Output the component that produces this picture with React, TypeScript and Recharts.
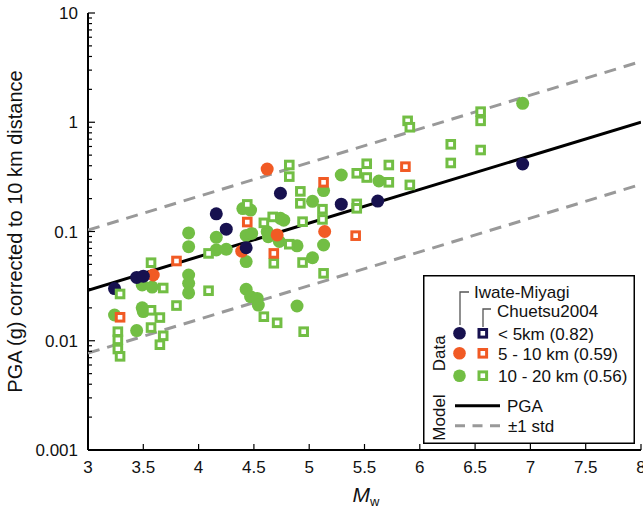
import { Legend, Scatter, ScatterChart, XAxis, YAxis } from 'recharts'

const NAVY = '#17114f'
const ORANGE = '#f15a24'
const GREEN = '#72be44'
const DASH = '#999999'
const FONT = '"Liberation Sans", Arial, Helvetica, sans-serif'

// Iwate-Miyagi (filled circles)
const iwateNearMw = [3.24, 3.44, 3.5, 4.16, 4.25, 4.43, 4.74, 5.29, 5.62, 6.93]
const iwateNearPga = [0.03, 0.038, 0.039, 0.145, 0.105, 0.071, 0.224, 0.178, 0.19, 0.415]

const iwateMidMw = [3.59, 4.39, 4.62, 4.71, 5.14]
const iwateMidPga = [0.04, 0.066, 0.373, 0.093, 0.1]

const iwateFarMw = [
  3.24, 3.49, 3.58, 3.49, 3.5, 3.44, 3.91, 3.91, 3.91, 3.91, 3.91, 4.16, 4.16, 4.25, 4.4, 4.47,
  4.43, 4.48, 4.43, 4.43, 4.47, 4.53, 4.54, 4.62, 4.63, 4.74, 4.77, 4.73, 4.89, 4.89, 5.03, 5.03,
  5.13, 5.13, 5.29, 5.63, 6.93,
]
const iwateFarPga = [
  0.0172, 0.0324, 0.031, 0.02, 0.0185, 0.0124, 0.097, 0.0726, 0.04, 0.0336, 0.0274, 0.0885, 0.0678,
  0.0687, 0.162, 0.157, 0.092, 0.096, 0.053, 0.0296, 0.0253, 0.0244, 0.0212, 0.0996, 0.0895, 0.132,
  0.127, 0.081, 0.074, 0.0208, 0.189, 0.0575, 0.237, 0.0752, 0.329, 0.29, 1.49,
]

// Chuetsu2004 (open squares)
const chuetsuMidMw = [3.29, 3.8, 4.44, 4.68, 5.13, 5.42, 5.87]
const chuetsuMidPga = [0.0164, 0.0537, 0.122, 0.063, 0.282, 0.0916, 0.392]

const chuetsuFarMw = [
  3.29, 3.27, 3.27, 3.27, 3.29, 3.57, 3.68, 3.57, 3.65, 3.57, 3.68, 3.65, 3.8, 4.09, 4.09, 4.44,
  4.59, 4.67, 4.68, 4.59, 4.71, 4.82, 4.82, 4.82, 4.92, 4.92, 4.94, 4.94, 4.95, 5.12, 5.12, 5.13,
  5.43, 5.43, 5.43, 5.52, 5.52, 5.72, 5.72, 5.89, 5.91, 5.91, 6.28, 6.28, 6.55, 6.55, 6.55,
]
const chuetsuFarPga = [
  0.0268, 0.0121, 0.0102, 0.0084, 0.0072, 0.0518, 0.0304, 0.019, 0.0163, 0.0132, 0.0111, 0.0092,
  0.021, 0.063, 0.0287, 0.177, 0.12, 0.136, 0.0512, 0.0166, 0.0146, 0.406, 0.318, 0.0765, 0.233,
  0.181, 0.123, 0.052, 0.0121, 0.16, 0.129, 0.0414, 0.341, 0.179, 0.163, 0.417, 0.312, 0.406,
  0.282, 1.03, 0.9, 0.267, 0.628, 0.424, 1.25, 1.03, 0.557,
]

// model
const modelMw = [3, 8]
const modelPga = [0.029, 1.0]
const modelUpper = [0.103, 3.6]
const modelLower = [0.0077, 0.27]

const xTicks = [3, 3.5, 4, 4.5, 5, 5.5, 6, 6.5, 7, 7.5, 8]
const yMajorTicks = [0.001, 0.01, 0.1, 1, 10]
const yMinorSteps = [2, 3, 4, 5, 6, 7, 8, 9]
const yTicks = yMajorTicks.flatMap((d, i) =>
  i < yMajorTicks.length - 1 ? [d, ...yMinorSteps.map((s) => +(d * s).toPrecision(3))] : [d]
)

const distanceLabels = ['< 5km (0.82)', '5 - 10 km (0.59)', '10 - 20 km (0.56)']
const distanceColors = [NAVY, ORANGE, GREEN]

const toPoints = (mw: number[], pga: number[]) => mw.map((m, i) => ({ mw: m, pga: pga[i] }))

const circle = (color: string) => (p: any) => <circle cx={p.cx} cy={p.cy} r={6.5} fill={color} />
const square = (color: string) => (p: any) => (
  <rect x={p.cx - 3.8} y={p.cy - 3.8} width={7.6} height={7.6} fill='#fff' stroke={color} strokeWidth={3} />
)
const noDot = () => <g />

const LeftTick = ({ x, y, payload }: any) => {
  const major = yMajorTicks.includes(payload.value)
  return (
    <g>
      <line x1={x} x2={x + (major ? 7 : 4)} y1={y} y2={y} stroke='#000' strokeWidth={1.2} />
      {major && (
        <text x={x - 10} y={y} dy={6} textAnchor='end' fontSize={17} fontFamily={FONT} fill='#111'>
          {payload.value}
        </text>
      )}
    </g>
  )
}

const RightTick = ({ x, y, payload }: any) => {
  const major = yMajorTicks.includes(payload.value)
  return <line x1={x} x2={x - (major ? 7 : 4)} y1={y} y2={y} stroke='#000' strokeWidth={1.2} />
}

const BottomTick = ({ x, y, payload }: any) => (
  <g>
    <line x1={x} x2={x} y1={y} y2={y - 6} stroke='#000' strokeWidth={1.2} />
    <text x={x} y={y} dy={23} textAnchor='middle' fontSize={17} fontFamily={FONT} fill='#111'>
      {payload.value}
    </text>
  </g>
)

const TopTick = ({ x, y }: any) => <line x1={x} x2={x} y1={y} y2={y + 6} stroke='#000' strokeWidth={1.2} />

function LegendBox() {
  const rows = [58.3, 78.3, 100.7]
  return (
    <svg width={213} height={170} style={{ display: 'block', fontFamily: FONT }}>
      <rect x={0.75} y={0.75} width={210.5} height={167.5} fill='#fff' stroke='#000' strokeWidth={1.5} />
      <text x={51} y={23} fontSize={17} fill='#111'>Iwate-Miyagi</text>
      <polyline points='46,17 37,17 37,50' fill='none' stroke='#555' strokeWidth={1.3} />
      <text x={74} y={41.5} fontSize={17} fill='#111'>Chuetsu2004</text>
      <polyline points='68,34 60,34 60,52' fill='none' stroke='#555' strokeWidth={1.3} />
      {distanceLabels.map((label, i) => (
        <g key={label}>
          <circle cx={36.5} cy={rows[i]} r={6.3} fill={distanceColors[i]} />
          <rect x={56} y={rows[i] - 3.8} width={7.6} height={7.6} fill='#fff' stroke={distanceColors[i]} strokeWidth={3} />
          <text x={75} y={rows[i] + 6.2} fontSize={17} fill='#111'>{label}</text>
        </g>
      ))}
      <text x={22} y={78.3} fontSize={17} fill='#111' textAnchor='middle' transform='rotate(-90 22 78.3)'>
        Data
      </text>
      <text x={22} y={142.5} fontSize={17} fill='#111' textAnchor='middle' transform='rotate(-90 22 142.5)'>
        Model
      </text>
      <line x1={32} x2={77} y1={130.7} y2={130.7} stroke='#000' strokeWidth={3} />
      <text x={84} y={136.5} fontSize={17} fill='#111'>PGA</text>
      <line x1={32} x2={77} y1={150.7} y2={150.7} stroke={DASH} strokeWidth={3} strokeDasharray='10 7.5' />
      <text x={85} y={156.5} fontSize={17} fill='#111'>±1 std</text>
    </svg>
  )
}

export default function App() {
  return (
    <div style={{ position: 'absolute', left: 0, top: 0, background: '#fff' }}>
      <ScatterChart width={643} height={510} margin={{ top: 13, right: 2, bottom: 0, left: 0 }}>
        <XAxis
          xAxisId='b'
          type='number'
          dataKey='mw'
          domain={[3, 8]}
          ticks={xTicks}
          interval={0}
          allowDataOverflow
          height={60}
          tickSize={0}
          tickMargin={0}
          tickLine={false}
          tick={BottomTick}
          axisLine={{ stroke: '#000', strokeWidth: 2 }}
          label={{
            content: ({ viewBox }: any) => (
              <text x={viewBox.x + viewBox.width / 2 - 12} y={502} fontFamily={FONT} fill='#111'>
                <tspan fontSize={21} fontStyle='italic'>M</tspan>
                <tspan fontSize={13} dy={4}>w</tspan>
              </text>
            ),
          }}
        />
        <XAxis
          xAxisId='t'
          orientation='top'
          type='number'
          domain={[3, 8]}
          ticks={xTicks}
          interval={0}
          allowDataOverflow
          height={0}
          tickSize={0}
          tickMargin={0}
          tickLine={false}
          tick={TopTick}
          axisLine={{ stroke: '#000', strokeWidth: 2 }}
        />
        <YAxis
          yAxisId='l'
          type='number'
          dataKey='pga'
          scale='log'
          domain={[0.001, 10]}
          ticks={yTicks}
          interval={0}
          allowDataOverflow
          width={88}
          tickSize={0}
          tickMargin={0}
          tickLine={false}
          tick={LeftTick}
          axisLine={{ stroke: '#000', strokeWidth: 2 }}
          label={{
            content: ({ viewBox }: any) => {
              const cy = viewBox.y + viewBox.height / 2
              return (
                <text x={22} y={cy} textAnchor='middle' fontSize={20} fontFamily={FONT} fill='#111' transform={`rotate(-90 22 ${cy})`}>
                  PGA (g) corrected to 10 km distance
                </text>
              )
            },
          }}
        />
        <YAxis
          yAxisId='r'
          orientation='right'
          type='number'
          scale='log'
          domain={[0.001, 10]}
          ticks={yTicks}
          interval={0}
          allowDataOverflow
          width={0}
          tickSize={0}
          tickMargin={0}
          tickLine={false}
          tick={RightTick}
          axisLine={{ stroke: '#000', strokeWidth: 2 }}
        />

        <Scatter xAxisId='b' yAxisId='l' data={toPoints(modelMw, modelUpper)} shape={noDot} line={{ stroke: DASH, strokeWidth: 3, strokeDasharray: '12 8' }} legendType='none' isAnimationActive={false} />
        <Scatter xAxisId='b' yAxisId='l' data={toPoints(modelMw, modelLower)} shape={noDot} line={{ stroke: DASH, strokeWidth: 3, strokeDasharray: '12 8' }} legendType='none' isAnimationActive={false} />
        <Scatter xAxisId='b' yAxisId='l' data={toPoints(modelMw, modelPga)} shape={noDot} line={{ stroke: '#000', strokeWidth: 3 }} legendType='none' isAnimationActive={false} />

        <Scatter xAxisId='b' yAxisId='l' data={toPoints(iwateFarMw, iwateFarPga)} shape={circle(GREEN)} isAnimationActive={false} />
        <Scatter xAxisId='b' yAxisId='l' data={toPoints(iwateMidMw, iwateMidPga)} shape={circle(ORANGE)} isAnimationActive={false} />
        <Scatter xAxisId='b' yAxisId='l' data={toPoints(iwateNearMw, iwateNearPga)} shape={circle(NAVY)} isAnimationActive={false} />
        <Scatter xAxisId='b' yAxisId='l' data={toPoints(chuetsuFarMw, chuetsuFarPga)} shape={square(GREEN)} isAnimationActive={false} />
        <Scatter xAxisId='b' yAxisId='l' data={toPoints(chuetsuMidMw, chuetsuMidPga)} shape={square(ORANGE)} isAnimationActive={false} />

        <Legend
          layout='vertical'
          align='center'
          verticalAlign='middle'
          content={LegendBox}
          wrapperStyle={{ left: 423, top: 275, width: 213, height: 170 }}
        />
      </ScatterChart>
    </div>
  )
}
